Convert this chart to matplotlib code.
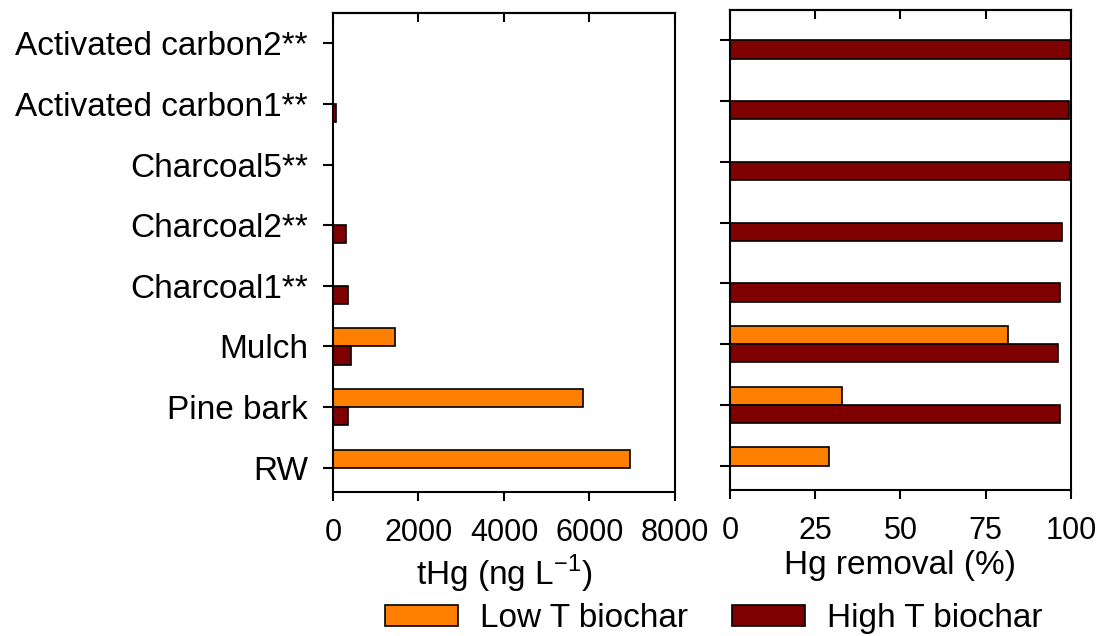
import matplotlib
matplotlib.use("Agg")
import matplotlib.pyplot as plt
from matplotlib.patches import Patch
import numpy as np

plt.rcParams['font.family'] = ['Liberation Sans', 'DejaVu Sans']

categories = ["RW", "Pine bark", "Mulch", "Charcoal1**", "Charcoal2**",
              "Charcoal5**", "Activated carbon1**", "Activated carbon2**"]
thg_low = [6950, 5855, 1450, 0, 0, 0, 0, 0]
thg_high = [0, 343, 413, 358, 304, 0, 62, 0]
rem_low = [28.9, 32.8, 81.4, 0, 0, 0, 0, 0]
rem_high = [0, 96.8, 96.1, 96.8, 97.3, 99.7, 99.5, 100]
thg_ticks = [0, 2000, 4000, 6000, 8000]
rem_ticks = [0, 25, 50, 75, 100]

c_low = '#FF8000'
c_high = '#7F0000'
FS = 24
FS_TICK = 22

fig = plt.figure(figsize=(11, 6.36), dpi=100)
ax1 = fig.add_axes([0.3027, 0.2264, 0.3109, 0.7531])
ax2 = fig.add_axes([0.6636, 0.2296, 0.3100, 0.7547])

y = np.arange(1, len(categories) + 1)
h = 0.3

def draw(ax, low, high, ticks, xmax, xlabel, ylabels, labelpad):
    lo = np.array(low, dtype=float)
    hi = np.array(high, dtype=float)
    ml = lo > 0
    mh = hi > 0
    ax.barh(y[ml] + h / 2, lo[ml], height=h, color=c_low, edgecolor='black', linewidth=1.2)
    ax.barh(y[mh] - h / 2, hi[mh], height=h, color=c_high, edgecolor='black', linewidth=1.2)
    ax.set_xlim(0, xmax)
    ax.set_ylim(0.6, 8.5)
    ax.set_xticks(ticks)
    ax.set_xticklabels([str(t) for t in ticks], fontsize=FS_TICK)
    ax.set_yticks(y)
    if ylabels:
        ax.set_yticklabels(categories, fontsize=FS)
    else:
        ax.set_yticklabels([])
    ax.tick_params(axis='x', direction='out', length=6.5, width=1.5, pad=12)
    ax.tick_params(axis='y', direction='out', length=7, width=1.5, pad=11)
    for s in ax.spines.values():
        s.set_linewidth(1.5)
    sec = ax.secondary_xaxis('top')
    sec.set_xticks(ticks)
    sec.tick_params(direction='in', length=6.5, width=1.5, labeltop=False)
    sec.spines['top'].set_linewidth(1.5)
    ax.set_xlabel(xlabel, fontsize=FS, labelpad=labelpad)

draw(ax1, thg_low, thg_high, thg_ticks, 8000, r'tHg (ng L$^{\mathregular{-1}}$)', True, 4)
draw(ax2, rem_low, rem_high, rem_ticks, 100, 'Hg removal (%)', False, 3)

handles = [Patch(facecolor=c_low, edgecolor='black', linewidth=1.2, label='Low T biochar'),
           Patch(facecolor=c_high, edgecolor='black', linewidth=1.2, label='High T biochar')]
fig.legend(handles=handles, loc='center', bbox_to_anchor=(0.649, 0.027), ncol=2,
           frameon=False, fontsize=FS, handlelength=2.2, handleheight=0.55,
           columnspacing=1.3, handletextpad=0.67, borderpad=0.2)

fig.savefig('out.png', dpi=100)
